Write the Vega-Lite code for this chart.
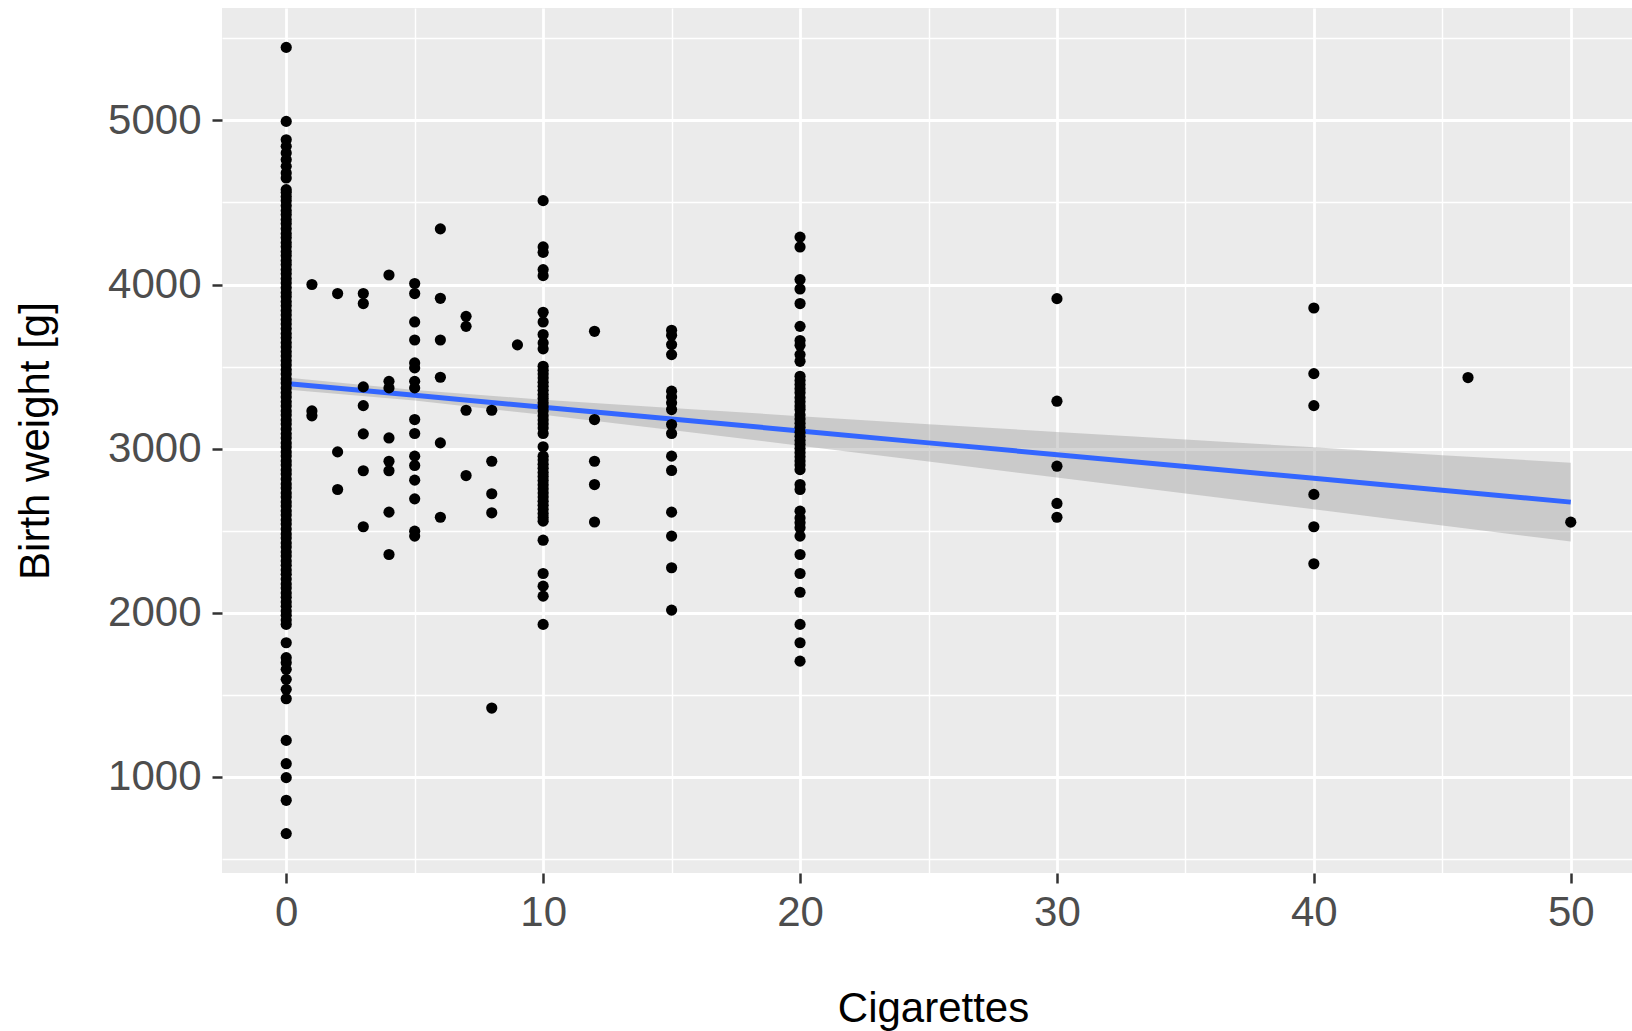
{
  "$schema": "https://vega.github.io/schema/vega-lite/v6.json",
  "width": 1413,
  "height": 865,
  "autosize": {"type": "none"},
  "padding": {"left": 222, "top": 8, "right": 0, "bottom": 158},
  "background": "#FFFFFF",
  "config": {
    "view": {"fill": "#EBEBEB", "stroke": null},
    "font": "Liberation Sans",
    "axis": {
      "labelFont": "Liberation Sans",
      "titleFont": "Liberation Sans",
      "labelFontSize": 42,
      "titleFontSize": 42,
      "labelColor": "#4D4D4D",
      "titleColor": "#000000",
      "titleFontWeight": "normal",
      "tickColor": "#333333",
      "tickWidth": 2.5,
      "tickSize": 10,
      "domain": false,
      "gridColor": "#FFFFFF",
      "labelFlush": false,
      "labelOverlap": false
    }
  },
  "datasets": {
    "pts": [
      {"cig": 0, "bw": 5445}, {"cig": 0, "bw": 4994}, {"cig": 0, "bw": 4882}, {"cig": 0, "bw": 4842}, {"cig": 0, "bw": 4801}, {"cig": 0, "bw": 4761}, {"cig": 0, "bw": 4720}, {"cig": 0, "bw": 4680}, {"cig": 0, "bw": 4649},
      {"cig": 0, "bw": 4578}, {"cig": 0, "bw": 4560}, {"cig": 0, "bw": 4535}, {"cig": 0, "bw": 4510}, {"cig": 0, "bw": 4480}, {"cig": 0, "bw": 4450}, {"cig": 0, "bw": 4425}, {"cig": 0, "bw": 4395}, {"cig": 0, "bw": 4370}, {"cig": 0, "bw": 4340}, {"cig": 0, "bw": 4310}, {"cig": 0, "bw": 4285}, {"cig": 0, "bw": 4255}, {"cig": 0, "bw": 4230}, {"cig": 0, "bw": 4200}, {"cig": 0, "bw": 4175}, {"cig": 0, "bw": 4145}, {"cig": 0, "bw": 4120}, {"cig": 0, "bw": 4090}, {"cig": 0, "bw": 4065}, {"cig": 0, "bw": 4035}, {"cig": 0, "bw": 4010}, {"cig": 0, "bw": 3980}, {"cig": 0, "bw": 3950}, {"cig": 0, "bw": 3925}, {"cig": 0, "bw": 3895}, {"cig": 0, "bw": 3870}, {"cig": 0, "bw": 3840}, {"cig": 0, "bw": 3815}, {"cig": 0, "bw": 3785}, {"cig": 0, "bw": 3760}, {"cig": 0, "bw": 3730}, {"cig": 0, "bw": 3700}, {"cig": 0, "bw": 3675}, {"cig": 0, "bw": 3645}, {"cig": 0, "bw": 3620}, {"cig": 0, "bw": 3590}, {"cig": 0, "bw": 3565}, {"cig": 0, "bw": 3535}, {"cig": 0, "bw": 3510}, {"cig": 0, "bw": 3480}, {"cig": 0, "bw": 3455}, {"cig": 0, "bw": 3425}, {"cig": 0, "bw": 3400}, {"cig": 0, "bw": 3370}, {"cig": 0, "bw": 3340}, {"cig": 0, "bw": 3315}, {"cig": 0, "bw": 3285}, {"cig": 0, "bw": 3260}, {"cig": 0, "bw": 3230}, {"cig": 0, "bw": 3205}, {"cig": 0, "bw": 3175}, {"cig": 0, "bw": 3150}, {"cig": 0, "bw": 3120}, {"cig": 0, "bw": 3090}, {"cig": 0, "bw": 3065}, {"cig": 0, "bw": 3035}, {"cig": 0, "bw": 3010}, {"cig": 0, "bw": 2980}, {"cig": 0, "bw": 2955}, {"cig": 0, "bw": 2925}, {"cig": 0, "bw": 2900}, {"cig": 0, "bw": 2870}, {"cig": 0, "bw": 2845}, {"cig": 0, "bw": 2815}, {"cig": 0, "bw": 2785}, {"cig": 0, "bw": 2760}, {"cig": 0, "bw": 2730}, {"cig": 0, "bw": 2705}, {"cig": 0, "bw": 2675}, {"cig": 0, "bw": 2650}, {"cig": 0, "bw": 2620}, {"cig": 0, "bw": 2595}, {"cig": 0, "bw": 2565}, {"cig": 0, "bw": 2540}, {"cig": 0, "bw": 2510}, {"cig": 0, "bw": 2480}, {"cig": 0, "bw": 2455}, {"cig": 0, "bw": 2425}, {"cig": 0, "bw": 2400}, {"cig": 0, "bw": 2370}, {"cig": 0, "bw": 2345}, {"cig": 0, "bw": 2315}, {"cig": 0, "bw": 2290}, {"cig": 0, "bw": 2260}, {"cig": 0, "bw": 2235}, {"cig": 0, "bw": 2205}, {"cig": 0, "bw": 2175}, {"cig": 0, "bw": 2150}, {"cig": 0, "bw": 2120}, {"cig": 0, "bw": 2095}, {"cig": 0, "bw": 2065}, {"cig": 0, "bw": 2040}, {"cig": 0, "bw": 2010}, {"cig": 0, "bw": 1985}, {"cig": 0, "bw": 1955}, {"cig": 0, "bw": 1929},
      {"cig": 0, "bw": 1817}, {"cig": 0, "bw": 1726}, {"cig": 0, "bw": 1695}, {"cig": 0, "bw": 1655}, {"cig": 0, "bw": 1594}, {"cig": 0, "bw": 1533}, {"cig": 0, "bw": 1476}, {"cig": 0, "bw": 1222}, {"cig": 0, "bw": 1080}, {"cig": 0, "bw": 995}, {"cig": 0, "bw": 857}, {"cig": 0, "bw": 654},
      {"cig": 1, "bw": 4000}, {"cig": 1, "bw": 3230}, {"cig": 1, "bw": 3200},
      {"cig": 2, "bw": 3945}, {"cig": 2, "bw": 2980}, {"cig": 2, "bw": 2751},
      {"cig": 3, "bw": 3945}, {"cig": 3, "bw": 3884}, {"cig": 3, "bw": 3376}, {"cig": 3, "bw": 3262}, {"cig": 3, "bw": 3090}, {"cig": 3, "bw": 2865}, {"cig": 3, "bw": 2524},
      {"cig": 4, "bw": 4058}, {"cig": 4, "bw": 3410}, {"cig": 4, "bw": 3370}, {"cig": 4, "bw": 3065}, {"cig": 4, "bw": 2923}, {"cig": 4, "bw": 2865}, {"cig": 4, "bw": 2613}, {"cig": 4, "bw": 2355},
      {"cig": 5, "bw": 4006}, {"cig": 5, "bw": 3945}, {"cig": 5, "bw": 3772}, {"cig": 5, "bw": 3662}, {"cig": 5, "bw": 3522}, {"cig": 5, "bw": 3492}, {"cig": 5, "bw": 3410}, {"cig": 5, "bw": 3370}, {"cig": 5, "bw": 3177}, {"cig": 5, "bw": 3092}, {"cig": 5, "bw": 2954}, {"cig": 5, "bw": 2897}, {"cig": 5, "bw": 2808}, {"cig": 5, "bw": 2694}, {"cig": 5, "bw": 2497}, {"cig": 5, "bw": 2467},
      {"cig": 6, "bw": 4339}, {"cig": 6, "bw": 3916}, {"cig": 6, "bw": 3662}, {"cig": 6, "bw": 3435}, {"cig": 6, "bw": 3035}, {"cig": 6, "bw": 2582},
      {"cig": 7, "bw": 3806}, {"cig": 7, "bw": 3745}, {"cig": 7, "bw": 3234}, {"cig": 7, "bw": 2836},
      {"cig": 8, "bw": 3234}, {"cig": 8, "bw": 2923}, {"cig": 8, "bw": 2725}, {"cig": 8, "bw": 2609}, {"cig": 8, "bw": 1419},
      {"cig": 9, "bw": 3632},
      {"cig": 10, "bw": 4511}, {"cig": 10, "bw": 4229}, {"cig": 10, "bw": 4196}, {"cig": 10, "bw": 4091}, {"cig": 10, "bw": 4054}, {"cig": 10, "bw": 3831}, {"cig": 10, "bw": 3772}, {"cig": 10, "bw": 3695}, {"cig": 10, "bw": 3644}, {"cig": 10, "bw": 3608}, {"cig": 10, "bw": 3502}, {"cig": 10, "bw": 3478}, {"cig": 10, "bw": 3455}, {"cig": 10, "bw": 3430}, {"cig": 10, "bw": 3405}, {"cig": 10, "bw": 3380}, {"cig": 10, "bw": 3355}, {"cig": 10, "bw": 3330}, {"cig": 10, "bw": 3305}, {"cig": 10, "bw": 3280}, {"cig": 10, "bw": 3255}, {"cig": 10, "bw": 3230}, {"cig": 10, "bw": 3200}, {"cig": 10, "bw": 3175}, {"cig": 10, "bw": 3150}, {"cig": 10, "bw": 3125}, {"cig": 10, "bw": 3092}, {"cig": 10, "bw": 3011}, {"cig": 10, "bw": 2954}, {"cig": 10, "bw": 2930}, {"cig": 10, "bw": 2905}, {"cig": 10, "bw": 2880}, {"cig": 10, "bw": 2855}, {"cig": 10, "bw": 2830}, {"cig": 10, "bw": 2805}, {"cig": 10, "bw": 2780}, {"cig": 10, "bw": 2755}, {"cig": 10, "bw": 2730}, {"cig": 10, "bw": 2705}, {"cig": 10, "bw": 2680}, {"cig": 10, "bw": 2655}, {"cig": 10, "bw": 2630}, {"cig": 10, "bw": 2605}, {"cig": 10, "bw": 2580}, {"cig": 10, "bw": 2558}, {"cig": 10, "bw": 2442}, {"cig": 10, "bw": 2239}, {"cig": 10, "bw": 2162}, {"cig": 10, "bw": 2101}, {"cig": 10, "bw": 1929},
      {"cig": 12, "bw": 3715}, {"cig": 12, "bw": 3177}, {"cig": 12, "bw": 2923}, {"cig": 12, "bw": 2781}, {"cig": 12, "bw": 2553},
      {"cig": 15, "bw": 3721}, {"cig": 15, "bw": 3691}, {"cig": 15, "bw": 3634}, {"cig": 15, "bw": 3573}, {"cig": 15, "bw": 3350}, {"cig": 15, "bw": 3315}, {"cig": 15, "bw": 3279}, {"cig": 15, "bw": 3238}, {"cig": 15, "bw": 3147}, {"cig": 15, "bw": 3092}, {"cig": 15, "bw": 2954}, {"cig": 15, "bw": 2867}, {"cig": 15, "bw": 2613}, {"cig": 15, "bw": 2467}, {"cig": 15, "bw": 2274}, {"cig": 15, "bw": 2016},
      {"cig": 20, "bw": 4289}, {"cig": 20, "bw": 4229}, {"cig": 20, "bw": 4030}, {"cig": 20, "bw": 3973}, {"cig": 20, "bw": 3884}, {"cig": 20, "bw": 3745}, {"cig": 20, "bw": 3659}, {"cig": 20, "bw": 3630}, {"cig": 20, "bw": 3573}, {"cig": 20, "bw": 3532}, {"cig": 20, "bw": 3441}, {"cig": 20, "bw": 3415}, {"cig": 20, "bw": 3390}, {"cig": 20, "bw": 3365}, {"cig": 20, "bw": 3340}, {"cig": 20, "bw": 3310}, {"cig": 20, "bw": 3285}, {"cig": 20, "bw": 3260}, {"cig": 20, "bw": 3238}, {"cig": 20, "bw": 3205}, {"cig": 20, "bw": 3180}, {"cig": 20, "bw": 3155}, {"cig": 20, "bw": 3130}, {"cig": 20, "bw": 3100}, {"cig": 20, "bw": 3075}, {"cig": 20, "bw": 3050}, {"cig": 20, "bw": 3025}, {"cig": 20, "bw": 3000}, {"cig": 20, "bw": 2975}, {"cig": 20, "bw": 2950}, {"cig": 20, "bw": 2925}, {"cig": 20, "bw": 2900}, {"cig": 20, "bw": 2872}, {"cig": 20, "bw": 2781}, {"cig": 20, "bw": 2751}, {"cig": 20, "bw": 2619}, {"cig": 20, "bw": 2578}, {"cig": 20, "bw": 2548}, {"cig": 20, "bw": 2518}, {"cig": 20, "bw": 2467}, {"cig": 20, "bw": 2355}, {"cig": 20, "bw": 2239}, {"cig": 20, "bw": 2125}, {"cig": 20, "bw": 1929}, {"cig": 20, "bw": 1817}, {"cig": 20, "bw": 1705},
      {"cig": 30, "bw": 3914}, {"cig": 30, "bw": 3289}, {"cig": 30, "bw": 2893}, {"cig": 30, "bw": 2666}, {"cig": 30, "bw": 2582},
      {"cig": 40, "bw": 3857}, {"cig": 40, "bw": 3457}, {"cig": 40, "bw": 3262}, {"cig": 40, "bw": 2721}, {"cig": 40, "bw": 2524}, {"cig": 40, "bw": 2298},
      {"cig": 46, "bw": 3433},
      {"cig": 50, "bw": 2552}
    ],
    "fit": [
      {"cig": 0, "fit": 3397, "lo": 3361, "hi": 3433},
      {"cig": 5, "fit": 3325, "lo": 3293, "hi": 3357},
      {"cig": 10, "fit": 3252, "lo": 3206, "hi": 3298},
      {"cig": 15, "fit": 3180, "lo": 3113, "hi": 3247},
      {"cig": 20, "fit": 3108, "lo": 3018, "hi": 3198},
      {"cig": 25, "fit": 3035, "lo": 2921, "hi": 3149},
      {"cig": 30, "fit": 2963, "lo": 2824, "hi": 3102},
      {"cig": 35, "fit": 2891, "lo": 2727, "hi": 3055},
      {"cig": 40, "fit": 2819, "lo": 2630, "hi": 3008},
      {"cig": 45, "fit": 2746, "lo": 2532, "hi": 2960},
      {"cig": 50, "fit": 2674, "lo": 2434, "hi": 2914}
    ]
  },
  "encoding": {
    "x": {
      "field": "cig",
      "type": "quantitative",
      "scale": {"domain": [-2.5, 52.5], "nice": false, "zero": false},
      "axis": {
        "title": "Cigarettes",
        "values": [0, 5, 10, 15, 20, 25, 30, 35, 40, 45, 50],
        "format": "d",
        "labelExpr": "datum.value % 10 === 0 ? datum.label : ''",
        "labelPadding": 9,
        "grid": true,
        "gridWidth": {"condition": {"test": "datum.value % 10 === 0", "value": 2.8}, "value": 1.4},
        "tickOpacity": {"condition": {"test": "datum.value % 10 === 0", "value": 1}, "value": 0},
        "titleX": 711,
        "titleY": 148,
        "titleBaseline": "alphabetic",
        "titleAnchor": null,
        "titleAlign": "center"
      }
    },
    "y": {
      "type": "quantitative",
      "scale": {"domain": [414, 5685], "nice": false, "zero": false},
      "axis": {
        "title": "Birth weight [g]",
        "values": [500, 1000, 1500, 2000, 2500, 3000, 3500, 4000, 4500, 5000, 5500],
        "format": "d",
        "labelExpr": "datum.value % 1000 === 0 ? datum.label : ''",
        "labelPadding": 11,
        "grid": true,
        "gridWidth": {"condition": {"test": "datum.value % 1000 === 0", "value": 2.8}, "value": 1.4},
        "tickOpacity": {"condition": {"test": "datum.value % 1000 === 0", "value": 1}, "value": 0},
        "titleX": -174,
        "titleY": 432.5,
        "titleAngle": -90,
        "titleBaseline": "alphabetic",
        "titleAlign": "center"
      }
    }
  },
  "layer": [
    {
      "data": {"name": "fit"},
      "mark": {"type": "area", "color": "#999999", "opacity": 0.4},
      "encoding": {
        "y": {"field": "lo"},
        "y2": {"field": "hi"}
      }
    },
    {
      "data": {"name": "fit"},
      "mark": {"type": "line", "color": "#3366FF", "strokeWidth": 5},
      "encoding": {
        "y": {"field": "fit"}
      }
    },
    {
      "data": {"name": "pts"},
      "mark": {"type": "circle", "color": "#000000", "opacity": 1, "size": 125},
      "encoding": {
        "y": {"field": "bw"}
      }
    }
  ]
}
